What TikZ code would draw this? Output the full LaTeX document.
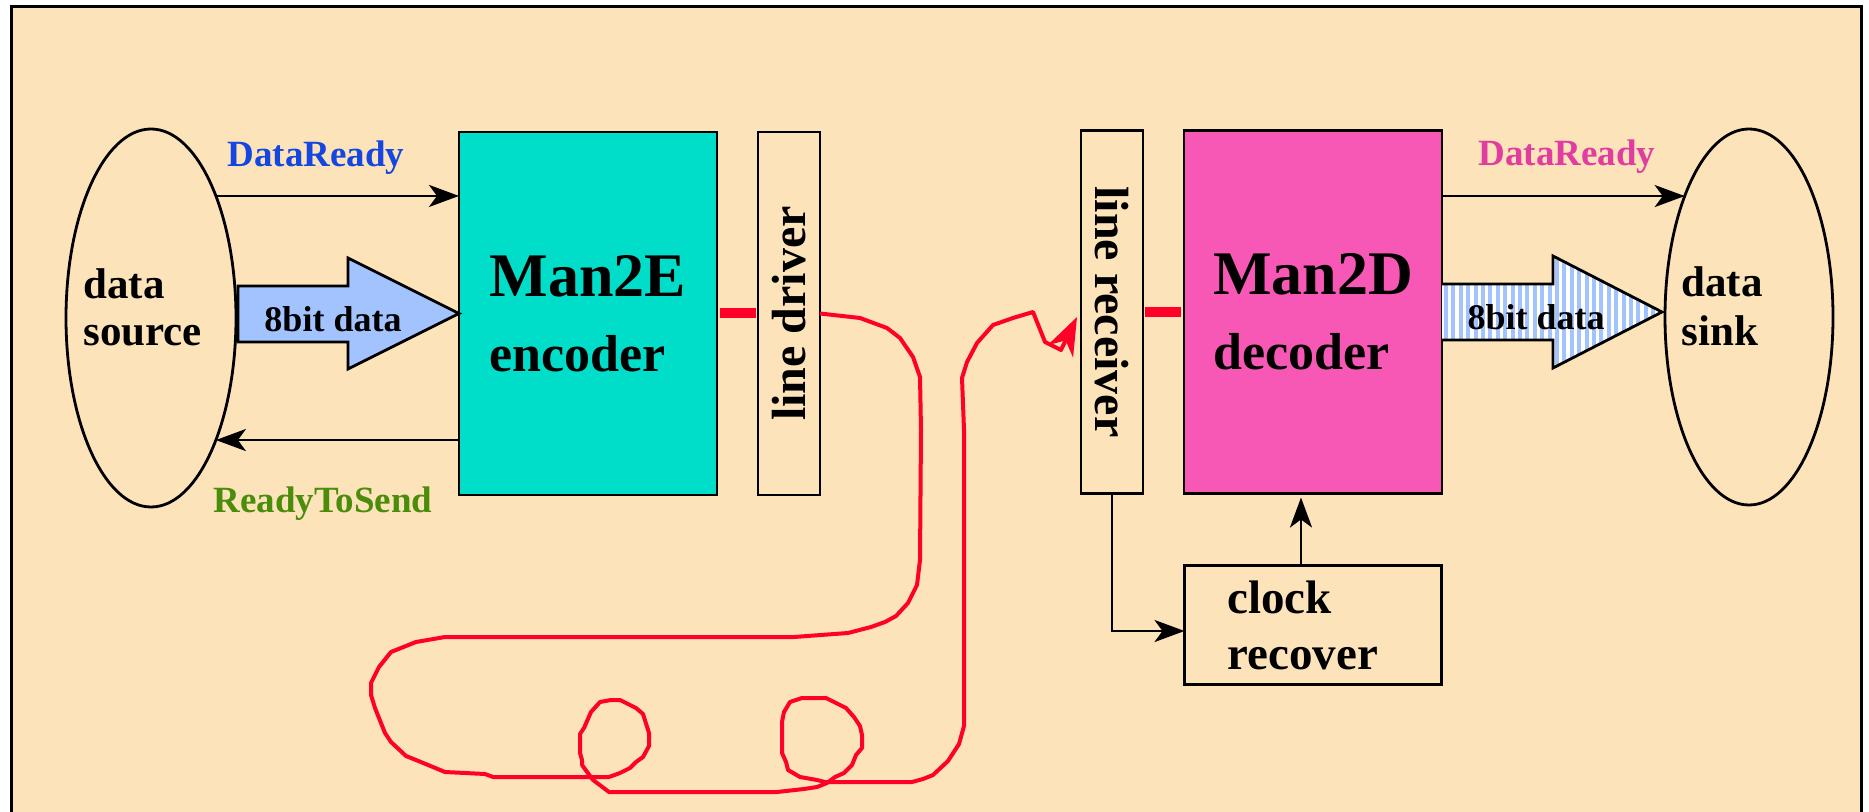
\documentclass[tikz,border=0pt]{standalone}
\usepackage{fontspec}
\setmainfont{Liberation Serif}
\usepackage{graphicx}
\usetikzlibrary{positioning, arrows.meta, shapes.geometric}
\definecolor{paper}{RGB}{252,227,186}
\definecolor{enccyan}{RGB}{0,221,200}
\definecolor{decpink}{RGB}{248,88,181}
\definecolor{busblue}{RGB}{163,195,255}
\definecolor{cablered}{RGB}{255,0,40}
\definecolor{rdyblue}{RGB}{20,70,225}
\definecolor{rdypink}{RGB}{225,60,160}
\definecolor{rtsgreen}{RGB}{75,140,10}
\tikzset{
  blockbox/.style={draw, line width=1.4pt, outer sep=0pt, inner sep=0pt, minimum width=129pt, minimum height=181.5pt, align=left, font=\bfseries\fontsize{31}{37.5}\selectfont},
  thinbox/.style={draw, fill=paper, line width=1.4pt, outer sep=0pt, inner sep=0pt, minimum width=31pt, minimum height=181.5pt, font=\bfseries\fontsize{24}{28}\selectfont},
  clockbox/.style={draw, line width=1.4pt, outer sep=0pt, inner sep=0pt, minimum width=128.5pt, minimum height=59.5pt, text width=85.5pt, align=left, font=\bfseries\fontsize{23.5}{28}\selectfont},
  endpoint/.style={draw, ellipse, line width=1.4pt, outer sep=0pt, inner sep=0pt},
  siglabel/.style={inner sep=0pt, anchor=base, font=\bfseries\fontsize{18.5}{22}\selectfont},
  endword/.style={inner sep=0pt, anchor=base west, font=\bfseries\fontsize{21.5}{26}\selectfont},
  buslabel/.style={inner sep=0pt, anchor=base, font=\bfseries\fontsize{18}{22}\selectfont},
  fatarrow/.style={draw, line width=1.4pt, line join=miter},
  sigwire/.style={draw, line width=1.4pt, ->},
  redcable/.style={draw=cablered, line width=2pt, line join=round},
  redstub/.style={draw=cablered, line width=5pt},
  >={Stealth[length=15pt, width=11pt, inset=4pt]},
}
\begin{document}
\begin{tikzpicture}[x=0.5pt, y=-0.5pt]
  \useasboundingbox (0,0) rectangle (1869,812);
  \fill[white] (0,0) rectangle (1869,812);
  \fill[paper] (11,7) rectangle (1861,830);
  \draw[line width=1.5pt] (11,830) -- (11,7) -- (1861,7) -- (1861,830);

  % blocks
  \node[endpoint, minimum width=85pt, minimum height=189pt] (src) at (151,318) {};
  \node[endpoint, minimum width=84pt, minimum height=188pt] (sink) at (1749,317) {};
  \node[blockbox, fill=enccyan] (enc) at (588,313.5) {Man2E\\{\fontsize{26}{37.5}\selectfont encoder}};
  \node[thinbox, right=20.5pt of enc] (drv) {\rotatebox{90}{line driver}};
  \node[blockbox, fill=decpink] (dec) at (1313,312) {Man2D\\{\fontsize{26}{37.5}\selectfont decoder}};
  \node[thinbox, left=20.5pt of dec] (rcv) {\rotatebox{-90}{line receiver}};
  \node[clockbox, below=36pt of dec] (clk) {clock\\recover};

  % texts
  \node[endword] (srcA) at (83,299) {data};
  \node[endword] (srcB) at (83,346) {source};
  \node[endword] (sinkA) at (1681,297) {data};
  \node[endword] (sinkB) at (1681,346) {sink};
  \node[siglabel, text=rdyblue] (rdyA) at (316,167) {DataReady};
  \node[siglabel, text=rtsgreen] (rts) at (323,513) {ReadyToSend};
  \node[siglabel, text=rdypink] (rdyB) at (1567,166) {DataReady};

  % 8bit buses
  \filldraw[fatarrow, fill=busblue] (238,286) -- (348,286) -- (348,258) -- (enc.west)
    -- (348,369) -- (348,342) -- (238,342) -- cycle;
  \node[buslabel] (busA) at (333,332) {8bit data};
  \begin{scope}
    \clip (1442,284) -- (1553,284) -- (1553,256) -- (1662,312) -- (1553,368) -- (1553,340) -- (1442,340) -- cycle;
    \fill[white] (1440,250) rectangle (1670,375);
    \foreach \x in {1446,1453.4,...,1662}
      \draw[busblue, line width=2pt] (\x,250) -- (\x,375);
  \end{scope}
  \draw[fatarrow] (dec.east |- 0,284) -- (1553,284) -- (1553,256) -- (1662,312)
    -- (1553,368) -- (1553,340) -- (dec.east |- 0,340);
  \node[buslabel] (busB) at (1536,330) {8bit data};

  % control wires
  \draw[sigwire] (src.62) -- (src.62 -| enc.west);
  \draw[sigwire] (src.-62 -| enc.west) -- (src.-62);
  \draw[sigwire] (dec.east |- sink.118) -- (sink.118);
  \draw[sigwire] (rcv.south) |- ([yshift=-3pt]clk.west);
  \draw[sigwire, shorten >=2pt] ([xshift=-6pt]clk.north) -- ([xshift=-6pt]clk.north |- dec.south);

  % line
  \draw[redstub, shorten <=1.5pt, shorten >=1pt] (enc.east) -- (enc.east -| drv.west);
  \draw[redstub, shorten <=1pt, shorten >=1.5pt] (rcv.east) -- (rcv.east -| dec.west);
  \coordinate (tipin) at ([shift={(-4,5)}]rcv.west);
  \draw[redcable, -{Stealth[length=19pt, width=14pt, inset=6pt]}] (drv.east)
    -- (860,318) -- (887,328) -- (900,338) -- (913,357) -- (920,377) -- (921,430)
    -- (920,560) -- (917,585) -- (908,603) -- (896,616) -- (885,622) -- (871,627)
    -- (848,633) -- (794,637) -- (445,637) -- (416,642) -- (391,652) -- (379,667)
    -- (371,683) -- (371,695) -- (375,708) -- (385,733) -- (391,742) -- (406,756)
    -- (416,760) -- (445,772) -- (485,774) -- (493,777) -- (609,777) -- (620,773)
    -- (630,768) -- (636,762) -- (643,757) -- (649,746) -- (649,733) -- (643,714)
    -- (636,708) -- (620,700) -- (611,700) -- (600,702) -- (591,712) -- (584,728)
    -- (580,734) -- (580,753) -- (582,760) -- (582,765) -- (593,780) -- (597,783)
    -- (609,792) -- (777,792) -- (804,789) -- (817,787) -- (827,783) -- (835,777)
    -- (844,773) -- (852,765) -- (856,755) -- (862,748) -- (862,735) -- (860,726)
    -- (854,717) -- (846,708) -- (826,698) -- (802,698) -- (790,702) -- (784,712)
    -- (782,722) -- (782,753) -- (786,762) -- (788,770) -- (800,777) -- (817,780)
    -- (825,782) -- (912,782) -- (923,779) -- (933,775) -- (948,761) -- (959,744)
    -- (964,726) -- (964,430) -- (962,378) -- (967,362) -- (977,343) -- (993,325)
    -- (1013,318) -- (1033,312) -- (1045,342) -- (1061,350) -- (tipin);
\end{tikzpicture}
\end{document}
